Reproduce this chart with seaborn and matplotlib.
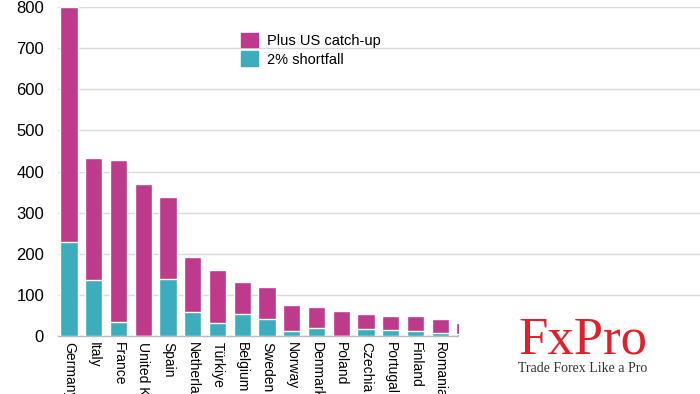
import matplotlib
matplotlib.use("Agg")
import matplotlib.pyplot as plt
import seaborn as sns
import pandas as pd
from matplotlib.patches import Rectangle, Patch

countries = ["Germany", "Italy", "France", "United Kingdom", "Spain", "Netherlands",
             "Türkiye", "Belgium", "Sweden", "Norway", "Denmark", "Poland",
             "Czechia", "Portugal", "Finland", "Romania", "Slovakia"]
total = [800, 434, 429, 370, 338, 193, 161, 131, 120, 75, 71, 62, 53, 49, 48, 42, 31]
shortfall = [229, 137, 33, 0, 139, 58, 32, 54, 41, 12, 20, 0, 18, 14, 11, 7, 5]
yticks = [0, 100, 200, 300, 400, 500, 600, 700, 800]

MAGENTA = "#BE3A8C"
TEAL = "#3BADBD"

df = pd.DataFrame({"country": countries, "total": total, "shortfall": shortfall})

sns.set_theme(style="white")
plt.rcParams["font.family"] = ["Liberation Sans", "DejaVu Sans"]

fig = plt.figure(figsize=(7, 3.94), dpi=100)
ax = fig.add_axes([58 / 700, 1 - 336 / 394, 1 - 58 / 700, (336 - 7) / 394])

sns.barplot(data=df, x="country", y="total", color=MAGENTA, saturation=1,
            width=0.7, ax=ax, zorder=3)
sns.barplot(data=df, x="country", y="shortfall", color=TEAL, saturation=1,
            width=0.7, ax=ax, zorder=4)

ax.set_xlim(-0.445, 25.5)
ax.set_ylim(0, 800)
ax.set_yticks(yticks)
ax.set_yticklabels([str(v) for v in yticks], fontsize=12, color="#000000")
ax.grid(axis="y", color="#DADADA", linewidth=1, zorder=0)
ax.set_axisbelow(True)
for s in ["left", "right", "top"]:
    ax.spines[s].set_visible(False)
ax.spines["bottom"].set_color("#BBBBBB")
ax.spines["bottom"].set_linewidth(1)
ax.tick_params(axis="y", length=0, pad=10)
ax.tick_params(axis="x", length=0, pad=4)
ax.set_xlabel("")
ax.set_ylabel("")
ax.set_xticks(range(len(countries)))
ax.set_xticklabels(countries, rotation=-90, fontsize=10, color="#000000",
                   va="top", ha="center")

handles = [Patch(color=MAGENTA, label="Plus US catch-up"),
           Patch(color=TEAL, label="2% shortfall")]
leg = ax.legend(handles=handles, loc="upper left", bbox_to_anchor=(0.276, 0.94),
                frameon=False, fontsize=10.5, handlelength=1.15, handleheight=1.15,
                handletextpad=0.6, labelspacing=0.25, borderaxespad=0)
for t in leg.get_texts():
    t.set_color("#000000")

# white box with FxPro logo
fig.add_artist(Rectangle((459 / 700, 0), 1 - 459 / 700, 97 / 394,
                         transform=fig.transFigure, facecolor="white",
                         edgecolor="none", zorder=10))
fig.text(583 / 700, 1 - 353 / 394, "FxPro", fontsize=38, color="#E3202A",
         family=["Liberation Serif"], ha="center", va="baseline", zorder=11)
fig.text(583 / 700, 1 - 372 / 394, "Trade Forex Like a Pro", fontsize=10,
         color="#333333", family=["Liberation Serif"], ha="center",
         va="baseline", zorder=11)

fig.savefig("out.png", dpi=100)
